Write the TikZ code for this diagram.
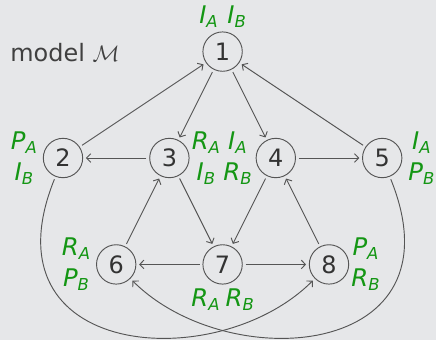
\documentclass[tikz,border=0pt]{standalone}
\usepackage{fontspec}
\setmainfont{DejaVu Sans}
\usepackage{xcolor}
\usepackage{tikz}
\usetikzlibrary{arrows.meta,positioning,calc}

\definecolor{bggray}{RGB}{230,231,233}
\definecolor{labgreen}{RGB}{20,150,20}
\definecolor{linegray}{RGB}{85,85,85}

% italic letter with a small index
\newcommand{\ix}[2]{\textit{#1}\raisebox{-2pt}{\fontsize{8.8}{10}\selectfont\textit{#2}}}

\begin{document}
\begin{tikzpicture}[
    font=\fontsize{12.8}{16}\selectfont,
    state/.style={circle, draw=linegray, text=black!80, minimum size=0.74cm, inner sep=0pt, line width=0.5pt},
    lab/.style={text=labgreen, align=center, inner sep=0pt, font=\fontsize{13}{16.5}\selectfont},
    arrow/.style={-{Straight Barb[length=2.2pt,width=4.6pt]}, draw=linegray, line width=0.5pt, shorten >=1.5pt, shorten <=1.5pt}
]
\useasboundingbox[fill=bggray] (-1.184,-3.421) rectangle (7.011,2.970);

% States
\node[state] (n1) at (3,2) {1};
\node[state] (n2) at (0,0) {2};
\node[state] (n3) at (2,0) {3};
\node[state] (n4) at (4,0) {4};
\node[state] (n5) at (6,0) {5};
\node[state] (n6) at (1,-2) {6};
\node[state] (n7) at (3,-2) {7};
\node[state] (n8) at (5,-2) {8};

% Title
\node[anchor=base west, text=black!75, inner sep=0pt] (title) at (-0.996,1.805) {model $\mathcal{M}$};

% Arrows
\draw[arrow] (n2) -- (n1);
\draw[arrow] (n5) -- (n1);
\draw[arrow] (n1) -- (n3);
\draw[arrow] (n1) -- (n4);
\draw[arrow] (n3) -- (n2);
\draw[arrow] (n4) -- (n5);
\draw[arrow] (n6) -- (n3);
\draw[arrow] (n3) -- (n7);
\draw[arrow] (n4) -- (n7);
\draw[arrow] (n8) -- (n4);
\draw[arrow] (n7) -- (n6);
\draw[arrow] (n7) -- (n8);
\draw[arrow] (n2) to[out=-112, in=-135, out distance=3.7cm, in distance=2.6cm] (n8);
\draw[arrow] (n5) to[out=-68, in=-45, out distance=3.7cm, in distance=2.6cm] (n6);

% Labels
\node[lab, above=2pt of n1] (lab1) {\ix{I}{A}\hspace{0.4em}\ix{I}{B}};
\node[lab, left=3pt of n2] (lab2) {\ix{P}{A}\\\ix{I}{B}};
\node[lab, right=1pt of n3] (lab3) {\ix{R}{A}\\\ix{I}{B}};
\node[lab, left=2pt of n4] (lab4) {\ix{I}{A}\\\ix{R}{B}};
\node[lab, right=3pt of n5] (lab5) {\ix{I}{A}\\\ix{P}{B}};
\node[lab, left=3pt of n6] (lab6) {\ix{R}{A}\\\ix{P}{B}};
\node[lab, below=2pt of n7] (lab7) {\ix{R}{A}\hspace{0.25em}\ix{R}{B}};
\node[lab, right=1pt of n8] (lab8) {\ix{P}{A}\\\ix{R}{B}};

\end{tikzpicture}
\end{document}
